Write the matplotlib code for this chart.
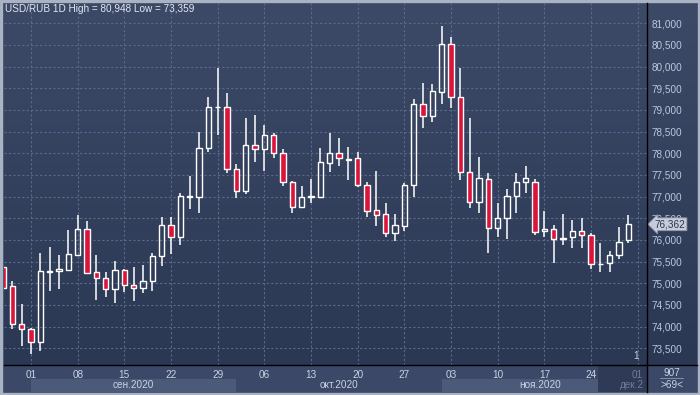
import numpy as np
import pandas as pd
import matplotlib
matplotlib.use("Agg")
from matplotlib import pyplot as plt
from matplotlib.colors import LinearSegmentedColormap
from matplotlib.lines import Line2D
from matplotlib.patches import Rectangle
import matplotlib.transforms as mtransforms

plt.rcParams["font.family"] = ["Liberation Sans", "DejaVu Sans"]

# daily candles, 27 Aug .. 30 Nov 2020
dates = pd.bdate_range("2020-08-27", "2020-11-30")
opens = [75369, 74930, 74053, 73938, 73638, 75255, 75276, 75306, 75660, 76253,
         75253, 75115, 74861, 75306, 74960, 74884, 75046, 75630, 76338, 76075,
         76995, 76998, 78115, 79060, 79076, 77631, 77139, 78191, 78092, 78415,
         78000, 77331, 76754, 76995, 76998, 77769, 78000, 77840, 77884, 77261,
         76691, 76592, 76167, 76322, 77261, 79131, 78868, 79408, 80522, 79306,
         77561, 76869, 77400, 76269, 76514, 77021, 77331, 77344, 76200, 76253,
         76030, 76061, 76207, 76107, 75440, 75461, 75653, 75999]
highs = [75420, 75046, 74522, 73975, 75706, 75844, 75660, 76230, 76576, 76437,
         75653, 75267, 75514, 75330, 75369, 75422, 75692, 76523, 76523, 77077,
         77476, 78485, 79306, 79962, 79385, 77753, 78822, 78884, 78653, 78461,
         78092, 77367, 77245, 77400, 78122, 78461, 78346, 78138, 78037, 77337,
         77598, 76846, 76599, 77307, 79253, 79615, 79599, 80948, 80691, 79962,
         78808, 77921, 77552, 76860, 77169, 77552, 77707, 77400, 76675, 76338,
         76592, 76460, 76507, 76153, 75937, 75745, 76306, 76576]
lows = [74850, 73952, 73552, 73359, 73444, 74829, 74875, 75290, 75637, 75214,
        74614, 74690, 74538, 74806, 74598, 74768, 74829, 75399, 75676, 75883,
        76714, 76615, 78023, 78422, 77538, 76975, 77060, 77806, 77598, 77884,
        77252, 76629, 76740, 76846, 76990, 77575, 77714, 77384, 77229, 76537,
        76322, 76061, 75983, 76213, 76984, 78577, 78730, 79131, 79052, 77384,
        76744, 76615, 75706, 76075, 76015, 76615, 77090, 76114, 76075, 75475,
        75883, 75807, 75814, 75322, 75267, 75267, 75553, 75937]
closes = [74898, 74053, 73952, 73638, 75276, 75280, 75329, 75669, 76253, 75244,
          75115, 74861, 75306, 74960, 74884, 75053, 75630, 76338, 76075, 77007,
          77010, 78115, 79061, 79080, 77631, 77130, 78191, 78092, 78415, 78000,
          77331, 76754, 76984, 77005, 77792, 78000, 77884, 77880, 77261, 76675,
          76583, 76167, 76338, 77268, 79131, 78868, 79438, 80522, 79306, 77561,
          76869, 77423, 76269, 76514, 77021, 77331, 77423, 76190, 76253, 76022,
          76045, 76207, 76107, 75445, 75455, 75653, 75960, 76362]
price_ticks = list(range(73500, 81001, 500))
months = ["сен.2020", "окт.2020", "ноя.2020"]
last_price = 76362

W, H = 700, 395
def frect(x0, y0, x1, y1):
    return [x0 / W, 1 - y1 / H, (x1 - x0) / W, (y1 - y0) / H]

TOP, BOT = "#3d4a67", "#2b3854"
RED = "#dc143c"
bg_cmap = LinearSegmentedColormap.from_list("bg", [TOP, BOT])
grad = np.linspace(0, 1, 256).reshape(-1, 1)

fig = plt.figure(figsize=(7, 3.95), dpi=100)
fig.patch.set_facecolor("#3b4867")

# right price panel background
pax = fig.add_axes(frect(647, 3, 697, 365))
pax.imshow(grad, cmap=bg_cmap, aspect="auto", extent=[0, 1, 0, 1])
pax.axis("off")

# tick positions: every Tuesday, plus 01 Dec
all_days = pd.bdate_range("2020-08-27", "2020-12-01")
tick_idx = [i for i, d in enumerate(all_days) if d.weekday() == 1]
tick_lab = [all_days[i].strftime("%d") for i in tick_idx]
xlim = (0.05, 69.0)

# bottom time strip (month bands)
tax = fig.add_axes(frect(3.5, 365, 647, 392))
tax.set_xlim(*xlim)
tax.set_ylim(0, 1)
tax.axis("off")
month_start = [i for i in range(1, len(all_days)) if all_days[i].month != all_days[i - 1].month]
month_start = month_start[:3] + [len(all_days) - 1]
for k, m in enumerate(months):
    a, b = month_start[k], month_start[k + 1]
    if k != 1:
        tax.axvspan(a, min(b, 63.7), ymin=0, ymax=0.5, color="#4b5a79", lw=0)
    tax.text((a + b) / 2, 0.27, m, ha="center", va="center", fontsize=7.2, color="#c9d3e3")
tax.axvspan(63.7, xlim[1], color="#2e3a56", lw=0)
tax.text(66.1, 0.27, "дек.2", ha="left", va="center", fontsize=7.2, color="#6f7d99")

# main chart
ax = fig.add_axes(frect(3.5, 3, 647, 365))
ax.imshow(grad, cmap=bg_cmap, aspect="auto", extent=[xlim[0], xlim[1], 73114, 81469], zorder=0)
ax.set_xlim(*xlim)
ax.set_ylim(73114, 81469)

for i in range(len(opens)):
    o, h, l, c = opens[i], highs[i], lows[i], closes[i]
    top, bot = max(o, c), min(o, c)
    ax.plot([i, i], [top, h], color="white", lw=1.1, zorder=2, solid_capstyle="butt")
    ax.plot([i, i], [l, bot], color="white", lw=1.1, zorder=2, solid_capstyle="butt")
    ax.bar(i, max(top - bot, 8), bottom=bot, width=0.56,
           facecolor=(RED if c < o else "none"), edgecolor="white", lw=1.0, zorder=3)

ax.set_yticks(price_ticks)
ax.set_yticklabels([f"{p:,}" for p in price_ticks])
ax.yaxis.tick_right()
ax.set_xticks(tick_idx)
ax.set_xticklabels(tick_lab)
ax.tick_params(axis="y", length=0, pad=3, labelsize=7.2, labelcolor="#bac7dd")
ax.tick_params(axis="x", length=0, pad=3.5, labelsize=7.2, labelcolor="#c9d3e3")
ax.get_xticklabels()[-1].set_color("#6f7d99")
ax.grid(True, color="#5a6a8a", linestyle=(0, (2, 2)), lw=0.8, zorder=1)
for s in ax.spines.values():
    s.set_visible(False)

# last price tag (sits over the 76,500 label, as in the terminal)
tr = mtransforms.blended_transform_factory(ax.transAxes, ax.transData)
ax.text(1.012, last_price, f"{last_price:,}", transform=tr, ha="left", va="center",
        fontsize=7.2, color="#2a3550", clip_on=False, zorder=5,
        bbox=dict(boxstyle="larrow,pad=0.14", fc="#c6ccd7", ec="#8e98ab", lw=0.6))
ax.text(67.8, 73200, "1", ha="center", va="bottom", fontsize=7.2, color="#c9d3e3")

fig.text(5 / W, 1 - 9 / H, "USD/RUB 1D High = 80,948 Low = 73,359", fontsize=7.2,
         color="#e3e8f1", va="center", ha="left")

# bottom-right cell
fig.text(672 / W, 1 - 373 / H, "907", fontsize=7.2, color="#c9d3e3", ha="center", va="center")
fig.add_artist(Line2D([660 / W, 683 / W], [1 - 378 / H, 1 - 378 / H], color="#8e9ab0", lw=0.6))
fig.text(672 / W, 1 - 385.5 / H, ">69<", fontsize=7.2, color="#c9d3e3", ha="center", va="center")

# separators and outer frame
fig.add_artist(Line2D([647 / W, 647 / W], [1 - 392 / H, 1 - 3 / H], color="black", lw=1.0))
fig.add_artist(Line2D([3.5 / W, 697 / W], [1 - 365 / H, 1 - 365 / H], color="black", lw=1.0))
fig.add_artist(Rectangle((0.0015, 0.0035), 0.997, 0.993, transform=fig.transFigure,
                         fill=False, ec="#aab3c3", lw=2.4))

fig.savefig("out.png", dpi=100, facecolor=fig.get_facecolor())
